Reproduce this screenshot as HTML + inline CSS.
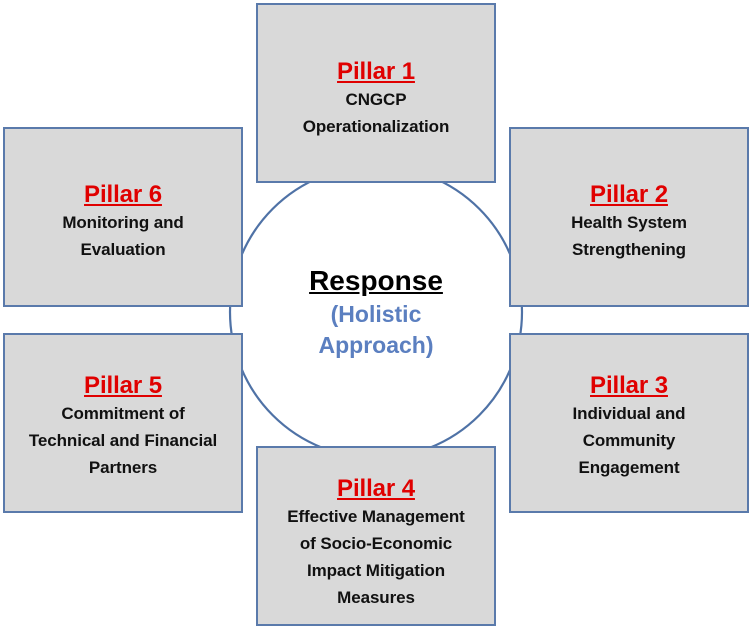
<!DOCTYPE html>
<html><head><style>
body{margin:0;width:752px;height:631px;background:#fff;position:relative;overflow:hidden;font-family:"Liberation Sans",sans-serif}
.b{position:absolute;width:236px;height:176px;background:#d9d9d9;border:2px solid #5a7aab;box-sizing:content-box}
.t{position:absolute;width:240px;text-align:center;font-weight:bold;font-size:17px;line-height:27px;color:#111;letter-spacing:-0.1px}
.p{color:#e00000;text-decoration:underline;font-size:24px;line-height:28px}
</style></head><body>
<svg width="752" height="631" style="position:absolute;left:0;top:0"><circle cx="376" cy="312" r="146" fill="#fff" stroke="#4f72a6" stroke-width="2.2"/></svg>
<div class="b" style="left:256px;top:3px"></div>
<div class="b" style="left:3px;top:127px"></div>
<div class="b" style="left:509px;top:127px"></div>
<div class="b" style="left:3px;top:333px"></div>
<div class="b" style="left:509px;top:333px"></div>
<div class="b" style="left:256px;top:446px"></div>
<div class="t" style="left:256px;top:58px"><div class="p">Pillar 1</div>CNGCP<br>Operationalization</div>
<div class="t" style="left:3px;top:181px"><div class="p">Pillar 6</div>Monitoring and<br>Evaluation</div>
<div class="t" style="left:509px;top:181px"><div class="p">Pillar 2</div>Health System<br>Strengthening</div>
<div class="t" style="left:3px;top:372px"><div class="p">Pillar 5</div>Commitment of<br>Technical and Financial<br>Partners</div>
<div class="t" style="left:509px;top:372px"><div class="p">Pillar 3</div>Individual and<br>Community<br>Engagement</div>
<div class="t" style="left:256px;top:475px"><div class="p">Pillar 4</div>Effective Management<br>of Socio-Economic<br>Impact Mitigation<br>Measures</div>
<div style="position:absolute;left:236px;width:280px;top:263px;text-align:center;font-weight:bold">
<div style="font-size:28px;text-decoration:underline;color:#000;line-height:36px">Response</div>
<div style="font-size:23px;color:#5b7fc0;line-height:31px">(Holistic<br>Approach)</div></div>
</body></html>
